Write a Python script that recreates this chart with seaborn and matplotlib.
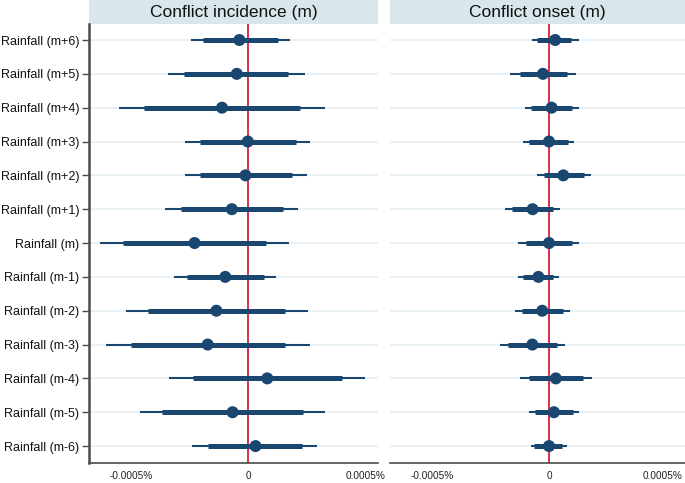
import numpy as np
import pandas as pd
import matplotlib
matplotlib.use("Agg")
import matplotlib.pyplot as plt
import matplotlib.transforms as mtransforms
from matplotlib.patches import Rectangle
import seaborn as sns

sns.set_style("white")
plt.rcParams["font.family"] = ["Liberation Sans", "DejaVu Sans"]

# coefficients and confidence bounds, in units of 1e-5 percent
terms = ["Rainfall (m+6)", "Rainfall (m+5)", "Rainfall (m+4)", "Rainfall (m+3)",
         "Rainfall (m+2)", "Rainfall (m+1)", "Rainfall (m)", "Rainfall (m-1)",
         "Rainfall (m-2)", "Rainfall (m-3)", "Rainfall (m-4)", "Rainfall (m-5)",
         "Rainfall (m-6)"]

inc_coef = [-3.7, -4.8, -11.1, -0.1, -1.1, -6.9, -22.8, -9.7, -13.5, -17.2, 8.2, -6.6, 3.2]
inc_lo90 = [-19.4, -27.1, -44.4, -20.3, -20.6, -28.7, -53.1, -26.1, -42.6, -49.9, -23.5, -36.5, -16.9]
inc_hi90 = [12.6, 17.2, 22.3, 20.3, 18.6, 14.7, 7.5, 6.8, 15.9, 15.6, 40.0, 23.4, 23.2]
inc_lo95 = [-24.5, -34.2, -55.0, -26.9, -26.8, -35.5, -62.9, -31.4, -52.0, -60.4, -33.7, -45.9, -23.7]
inc_hi95 = [17.8, 24.4, 32.8, 26.6, 25.1, 21.4, 17.3, 12.1, 25.5, 26.5, 49.9, 33.0, 29.2]

ons_coef = [2.5, -2.7, 1.0, -0.1, 6.0, -7.1, -0.1, -4.6, -3.0, -7.2, 2.8, 2.0, -0.1]
ons_lo90 = [-5.1, -12.3, -7.7, -8.5, -2.4, -15.8, -10.0, -11.3, -11.8, -17.6, -8.8, -5.9, -6.3]
ons_hi90 = [9.2, 7.5, 9.6, 8.0, 14.8, 1.6, 9.8, 1.8, 6.0, 3.3, 14.2, 10.0, 5.6]
ons_lo95 = [-7.3, -16.5, -10.4, -11.1, -5.2, -18.7, -13.4, -13.4, -14.7, -21.0, -12.6, -8.5, -7.6]
ons_hi95 = [12.7, 11.4, 12.7, 10.6, 17.6, 4.4, 12.8, 4.1, 8.9, 6.5, 18.0, 12.7, 7.5]

xtick_vals = [-50, 0, 50]
xtick_labels = ["-0.0005%", "0", "0.0005%"]

navy = "#1a476f"
red = "#d8203f"
grid_c = "#e6eff2"
strip_c = "#d9e6ec"
spine_c = "#4a4a4a"

inc = pd.DataFrame({"term": terms, "coef": inc_coef, "lo90": inc_lo90, "hi90": inc_hi90,
                    "lo95": inc_lo95, "hi95": inc_hi95})
ons = pd.DataFrame({"term": terms, "coef": ons_coef, "lo90": ons_lo90, "hi90": ons_hi90,
                    "lo95": ons_lo95, "hi95": ons_hi95})

W, H = 685, 483
fig = plt.figure(figsize=(W / 100, H / 100), dpi=100)
ax1 = fig.add_axes([89 / W, 20 / H, 289 / W, 439 / H])
ax2 = fig.add_axes([390 / W, 20 / H, 295 / W, 439 / H])

panels = [(ax1, inc, "Conflict incidence (m)", (-67.8, 55.4)),
          (ax2, ons, "Conflict onset (m)", (-67.8, 57.8))]

for ax, df, title, xlim in panels:
    # light horizontal guide lines
    ax.hlines(df["term"], xlim[0], xlim[1], color=grid_c, lw=1.2, zorder=0)
    ax.axvline(0, color=red, lw=1.3, zorder=1)
    ax.hlines(df["term"], df["lo95"], df["hi95"], color=navy, lw=1.5, zorder=2)
    ax.hlines(df["term"], df["lo90"], df["hi90"], color=navy, lw=3.6, zorder=3)
    sns.scatterplot(data=df, x="coef", y="term", ax=ax, color=navy, s=75,
                    edgecolor="none", zorder=4)
    ax.set_xlim(*xlim)
    ax.set_ylim(12.50, -0.473)
    ax.set_xticks(xtick_vals)
    ax.set_xticklabels(xtick_labels)
    ax.set_xlabel("")
    ax.set_ylabel("")
    ax.tick_params(axis="x", length=4.5, width=1, color=spine_c, labelsize=7.2,
                   labelcolor="#222222", pad=1)
    for s in ["top", "right", "left"]:
        ax.spines[s].set_visible(False)
    ax.spines["bottom"].set_color(spine_c)
    ax.spines["bottom"].set_linewidth(1.2)
    # header strip
    ax.add_patch(Rectangle((0, 1), 1, 24 / 439, transform=ax.transAxes,
                           facecolor=strip_c, edgecolor="none", clip_on=False))
    ax.text(0.5, 1 + 12 / 439, title, transform=ax.transAxes, ha="center",
            va="center", fontsize=12.5, color="#111111")

ax1.spines["left"].set_visible(True)
ax1.spines["left"].set_color(spine_c)
ax1.spines["left"].set_linewidth(1.8)
ax1.tick_params(axis="y", length=5, width=1, color=spine_c, labelsize=9,
                labelcolor="#111111", pad=2, left=True)
ax2.tick_params(axis="y", left=False, labelleft=False)

# keep the last tick label inside the figure
last = ax2.get_xticklabels()[-1]
last.set_transform(last.get_transform() +
                   mtransforms.ScaledTranslation(-3 / 72, 0, fig.dpi_scale_trans))

fig.savefig("out.png", dpi=100)
